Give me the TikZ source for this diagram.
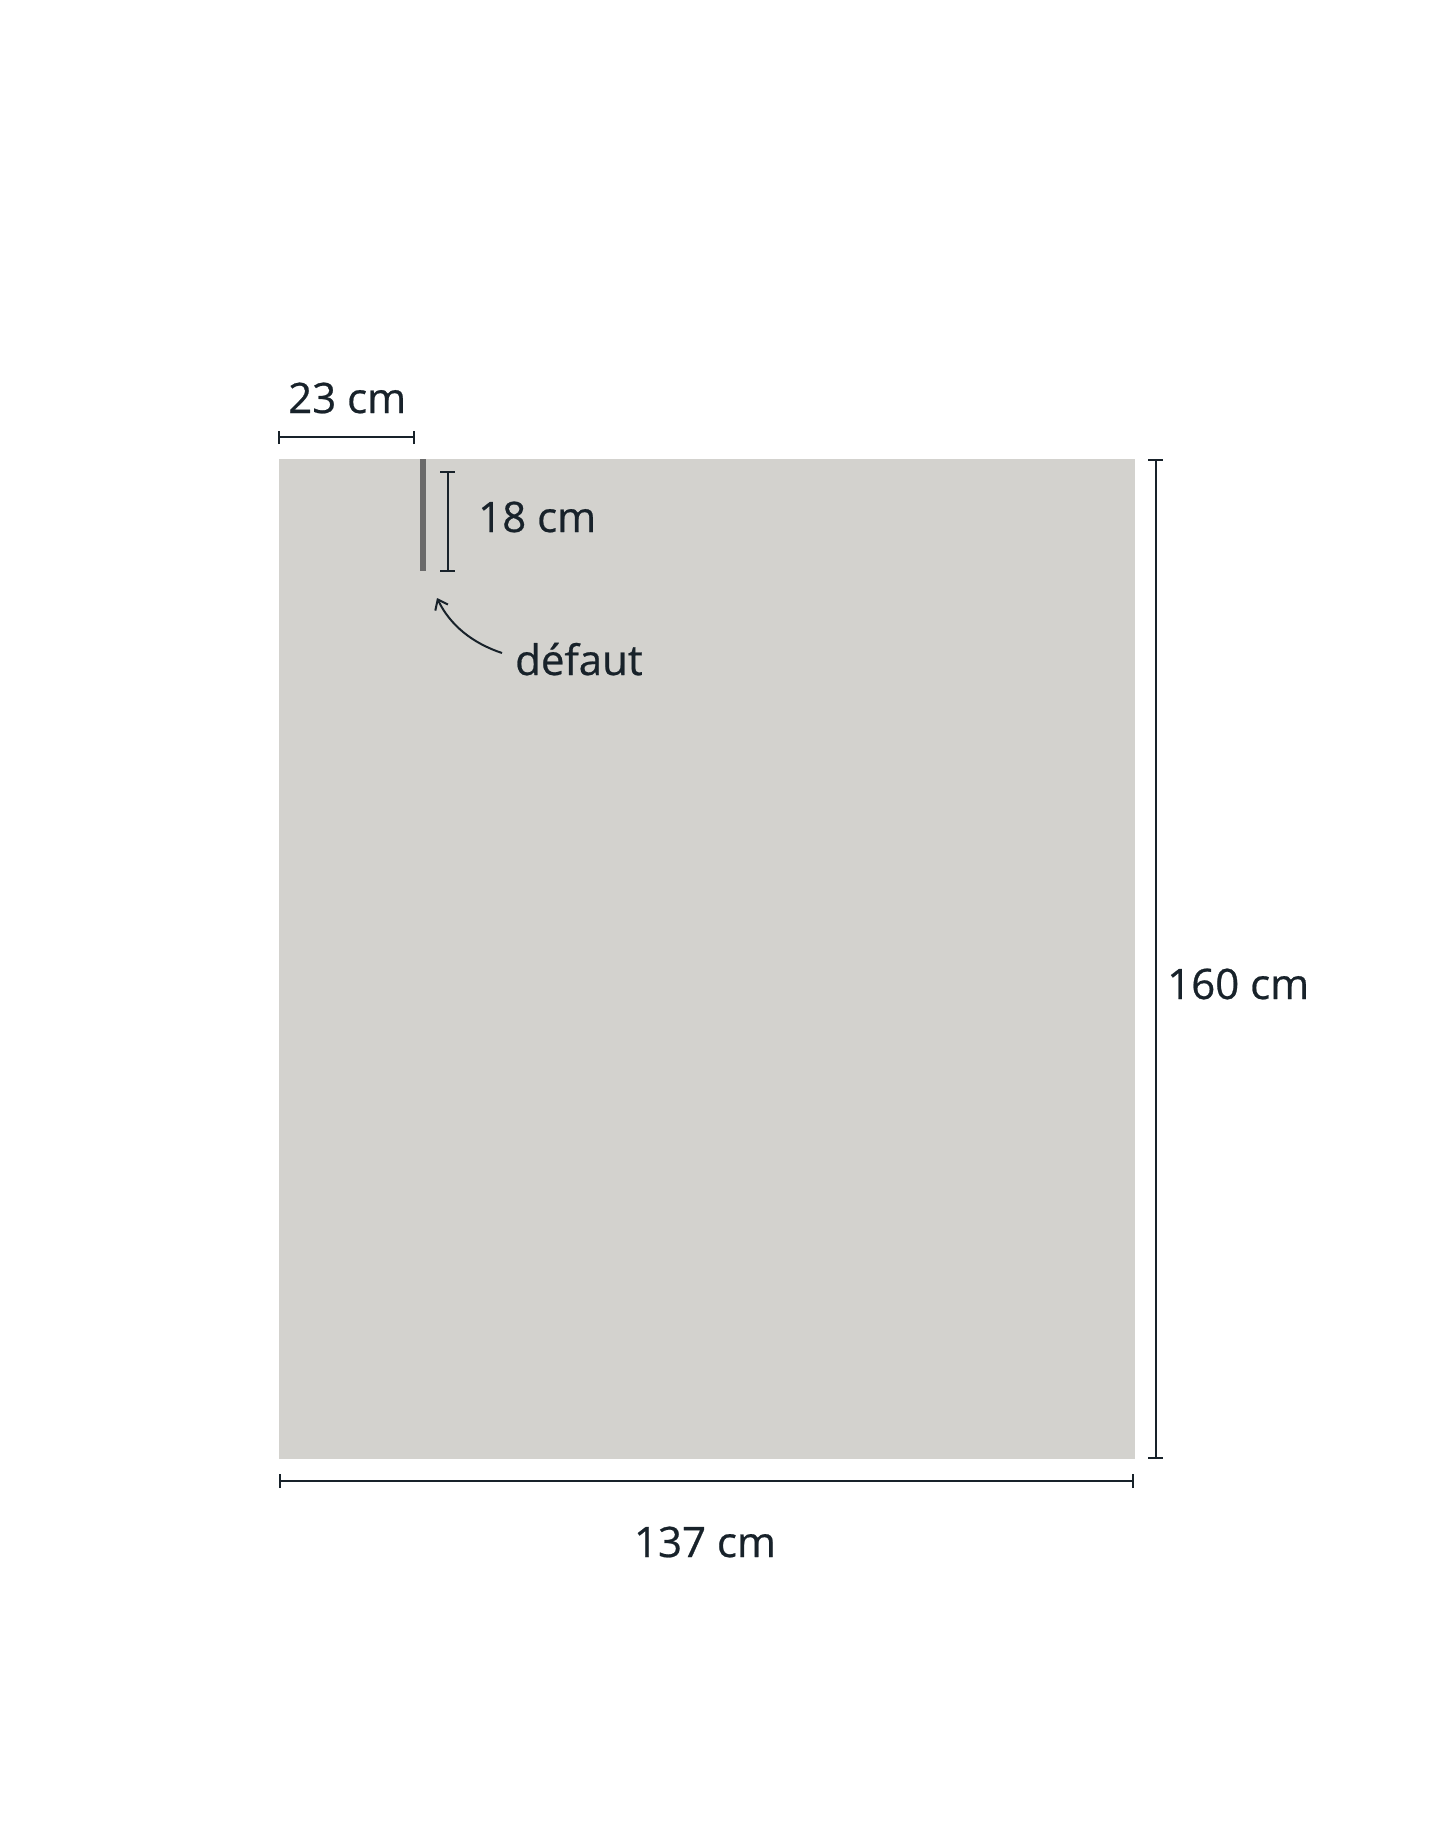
\documentclass[tikz,border=0pt]{standalone}
\usepackage{fontspec}
\setmainfont{Open Sans}
\newfontfamily\lblfont{Open Sans}[FakeBold=0.6]
\usetikzlibrary{arrows.meta}
\definecolor{ink}{HTML}{18222A}
\definecolor{fabric}{HTML}{D3D2CE}
\definecolor{defect}{HTML}{6A6A6A}
\tikzset{
  dimline/.style={draw=ink, line width=2pt},
  lbl/.style={text=ink, inner sep=0pt, anchor=base west, font=\lblfont\fontsize{42}{48}\selectfont},
}
\begin{document}
\begin{tikzpicture}[x=1pt,y=-1pt]
\path[use as bounding box] (0,0) rectangle (1445,1846);
% fabric
\node[fill=fabric, draw=none, minimum width=856pt, minimum height=1000pt, inner sep=0pt, anchor=north west] (fab) at (279,459) {};
% defect bar
\node[fill=defect, minimum width=6pt, minimum height=112pt, inner sep=0pt, anchor=north] (bar) at (423,459) {};
% 23 cm dimension
\coordinate (a1) at (279,437);
\coordinate (a2) at (414,437);
\draw[dimline] (a1) -- (a2);
\draw[dimline] ([yshift=-7pt]a1) -- ([yshift=6pt]a1);
\draw[dimline] ([yshift=-7pt]a2) -- ([yshift=6pt]a2);
\node[lbl] (t23) at (288,413) {23 cm};
% 18 cm dimension
\coordinate (b1) at (447.5,472);
\coordinate (b2) at (447.5,571);
\draw[dimline] (b1) -- (b2);
\draw[dimline] ([xshift=-7.5pt]b1) -- ([xshift=7.5pt]b1);
\draw[dimline] ([xshift=-7.5pt]b2) -- ([xshift=7.5pt]b2);
\node[lbl] (t18) at (478,532) {18 cm};
% defaut arrow
\node[lbl] (tdef) at (515,675) {défaut};
\coordinate (h) at (437,598);
\coordinate (tl) at (502,653);
\draw[ink, line width=2pt, -{Straight Barb[length=9pt,width=14pt,line width=2pt]}] (tl) .. controls (472,643) and (450,625) .. (h);
% 160 cm dimension
\coordinate (c1) at (1155.5,460);
\coordinate (c2) at (1155.5,1458);
\draw[dimline] (c1) -- (c2);
\draw[dimline] ([xshift=-7.5pt]c1) -- ([xshift=7.5pt]c1);
\draw[dimline] ([xshift=-7.5pt]c2) -- ([xshift=7.5pt]c2);
\node[lbl] (t160) at (1167,999) {160 cm};
% 137 cm dimension
\coordinate (d1) at (280,1481);
\coordinate (d2) at (1133,1481);
\draw[dimline] (d1) -- (d2);
\draw[dimline] ([yshift=-7pt]d1) -- ([yshift=7pt]d1);
\draw[dimline] ([yshift=-7pt]d2) -- ([yshift=7pt]d2);
\node[lbl, anchor=base] (t137) at (705,1557) {137 cm};
\end{tikzpicture}
\end{document}
